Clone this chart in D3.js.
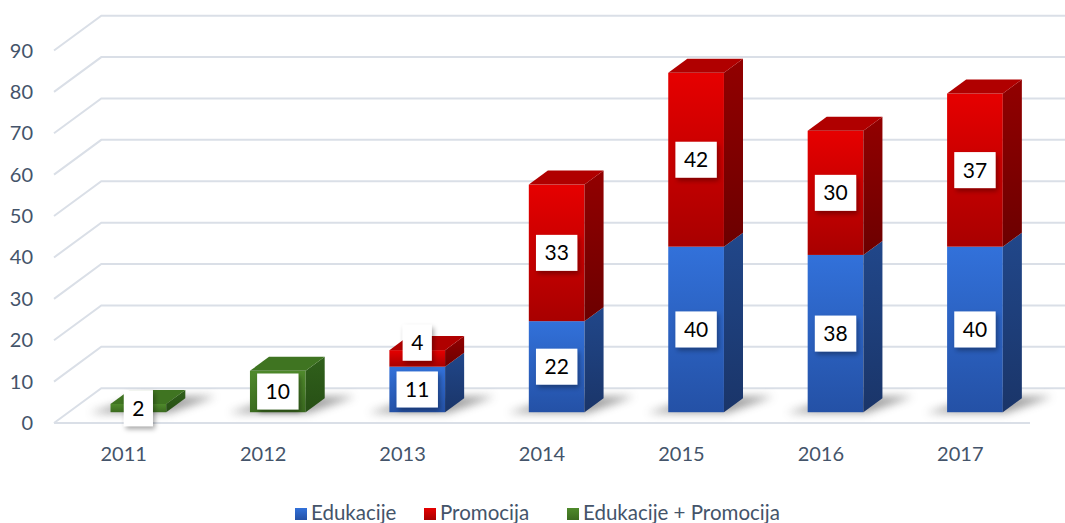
<!DOCTYPE html>
<html><head><meta charset="utf-8">
<script src="https://cdn.jsdelivr.net/npm/d3@7"></script>
<style>
html,body{margin:0;padding:0;background:#fff;}
svg{display:block;font-family:Lato,"Open Sans",sans-serif;}
</style></head>
<body><svg id="c" width="1065" height="523"></svg>
<script>
// ---- data ----
const years = ['2011','2012','2013','2014','2015','2016','2017'];
const edukacije = [0,0,11,22,40,38,40];
const promocija = [0,0,4,33,42,30,37];
const eduPromo = [2,10,0,0,0,0,0];
const seriesNames = ['Edukacije','Promocija','Edukacije + Promocija'];
const yTicks = [0,10,20,30,40,50,60,70,80,90];

// ---- layout ----
const W=1065,H=523;
const X0=54, X1=1030, BASE=423, DX=47.3, DY=34.8;
const zf=0.31, zb=0.713, barW=55.7;
const svg=d3.select('#c');
const y=d3.scaleLinear().domain([0,90]).range([0,372.5]);
const x=d3.scaleBand().domain(years).range([X0,X1]);
const P=(px,v,z)=>[px+z*DX, BASE-z*DY-y(v)];
const textCol='#44546a';

const defs=svg.append('defs');
const grad=(id,c1,c2)=>{const g=defs.append('linearGradient').attr('id',id).attr('x1',0).attr('y1',0).attr('x2',0).attr('y2',1);
  g.append('stop').attr('offset','0%').attr('stop-color',c1);g.append('stop').attr('offset','100%').attr('stop-color',c2);};
const colors=[
 {front:['#3271da','#2451a6'],side:['#21478a','#1a3569'],top:'#2a5cb8'},
 {front:['#e60000','#a80000'],side:['#920000','#6c0000'],top:'#b00000'},
 {front:['#4f8a2b','#3b6b1f'],side:['#30601b','#274f15'],top:'#3f7421'}];
colors.forEach((c,i)=>{grad('f'+i,c.front[0],c.front[1]);grad('s'+i,c.side[0],c.side[1]);});
defs.append('filter').attr('id','blur').attr('x','-50%').attr('y','-50%').attr('width','200%').attr('height','200%')
  .append('feGaussianBlur').attr('stdDeviation',4);
defs.append('filter').attr('id','ds').attr('x','-50%').attr('y','-50%').attr('width','200%').attr('height','200%')
  .append('feDropShadow').attr('dx',2).attr('dy',3).attr('stdDeviation',2.5).attr('flood-color','#000').attr('flood-opacity',0.35);

// ---- gridlines ----
const gl=svg.append('g');
yTicks.forEach(v=>{
  const a=P(X0,v,0),b=P(X0,v,1),c=P(X1,v,1);
  gl.append('path').attr('d',`M${a}L${b}L${c}`).attr('fill','none').attr('stroke','#dadfe7').attr('stroke-width',2);
});
gl.append('path').attr('d',`M${P(X0,0,0)}L${P(X1,0,0)}`).attr('stroke','#dadfe7').attr('stroke-width',2);

// y labels
svg.append('g').selectAll('text').data(yTicks).join('text')
 .attr('x',33).attr('y',d=>P(X0,d,0)[1]+7).attr('text-anchor','end')
 .attr('font-size',20).attr('fill',textCol).text(d=>d);
// x labels
svg.append('g').selectAll('text').data(years).join('text')
 .attr('x',d=>x(d)+x.bandwidth()/2).attr('y',461).attr('text-anchor','middle')
 .attr('font-size',20).attr('fill',textCol).text(d=>d);

// ---- stack ----
const table=years.map((yr,i)=>({year:yr,s0:edukacije[i],s1:promocija[i],s2:eduPromo[i]}));
const stack=d3.stack().keys(['s0','s1','s2'])(table);
const poly=pts=>'M'+pts.map(p=>p.join(',')).join('L')+'Z';

// shadows
const sh=svg.append('g');
years.forEach((yr,i)=>{
  const cx=x(yr)+x.bandwidth()/2, l=cx-barW/2, r=cx+barW/2;
  const pts=[P(l-20,0,zf-0.02),P(r+4,0,zf-0.02),P(r+28,0,zb+0.05),P(l+12,0,zb+0.05)];
  sh.append('path').attr('d',poly(pts)).attr('fill','#555').attr('opacity',0.55).attr('filter','url(#blur)');
});

// bars
const bars=svg.append('g');
const labelsData=[];
years.forEach((yr,i)=>{
  const cx=x(yr)+x.bandwidth()/2, l=cx-barW/2, r=cx+barW/2;
  let lastTop=null, lastK=null;
  stack.forEach((s,k)=>{
    const v0=s[i][0], v1=s[i][1];
    if(v1-v0<=0) return;
    const g=bars.append('g');
    const fa=P(l,v1,zf), fb=P(r,v0,zf);
    g.append('rect').attr('x',fa[0]).attr('y',fa[1]).attr('width',fb[0]-fa[0]).attr('height',fb[1]-fa[1]).attr('fill',`url(#f${k})`);
    g.append('path').attr('d',poly([P(r,v0,zf),P(r,v0,zb),P(r,v1,zb),P(r,v1,zf)])).attr('fill',`url(#s${k})`);
    lastTop=v1; lastK=k;
    labelsData.push({i,k,val:v1-v0,cx:P(cx,0,zf)[0],cy:(fa[1]+fb[1])/2});
  });
  if(lastTop!==null){
    bars.append('path').attr('d',poly([P(l,lastTop,zf),P(r,lastTop,zf),P(r,lastTop,zb),P(l,lastTop,zb)])).attr('fill',colors[lastK].top);
  }
});

// labels
const lab=svg.append('g');
const BH=36, GAP=10.7;
const prevTop={};
labelsData.forEach(d=>{
  let cy=d.cy;
  if(prevTop[d.i]!==undefined && cy+BH/2>prevTop[d.i]-GAP) cy=prevTop[d.i]-GAP-BH/2;
  const g=lab.append('g');
  const t=g.append('text').attr('x',d.cx).attr('y',cy+7.5).attr('text-anchor','middle').attr('font-size',21).attr('fill','#000').text(d.val);
  const tw=t.node().getComputedTextLength();
  const bw=Math.max(28.7,tw+17);
  g.insert('rect','text').attr('x',d.cx-bw/2).attr('y',cy-BH/2).attr('width',bw).attr('height',BH).attr('fill','#fff').attr('filter','url(#ds)');
  prevTop[d.i]=cy-BH/2;
});

// legend
const legX=[295,424,567];
const leg=svg.append('g');
seriesNames.forEach((n,k)=>{
  const g=leg.append('g').attr('transform',`translate(${legX[k]},0)`);
  g.append('rect').attr('x',0).attr('y',508).attr('width',12).attr('height',12).attr('fill',`url(#f${k})`);
  g.append('text').attr('x',16).attr('y',520).attr('font-size',20.5).attr('fill',textCol).text(n);
});
</script></body></html>
